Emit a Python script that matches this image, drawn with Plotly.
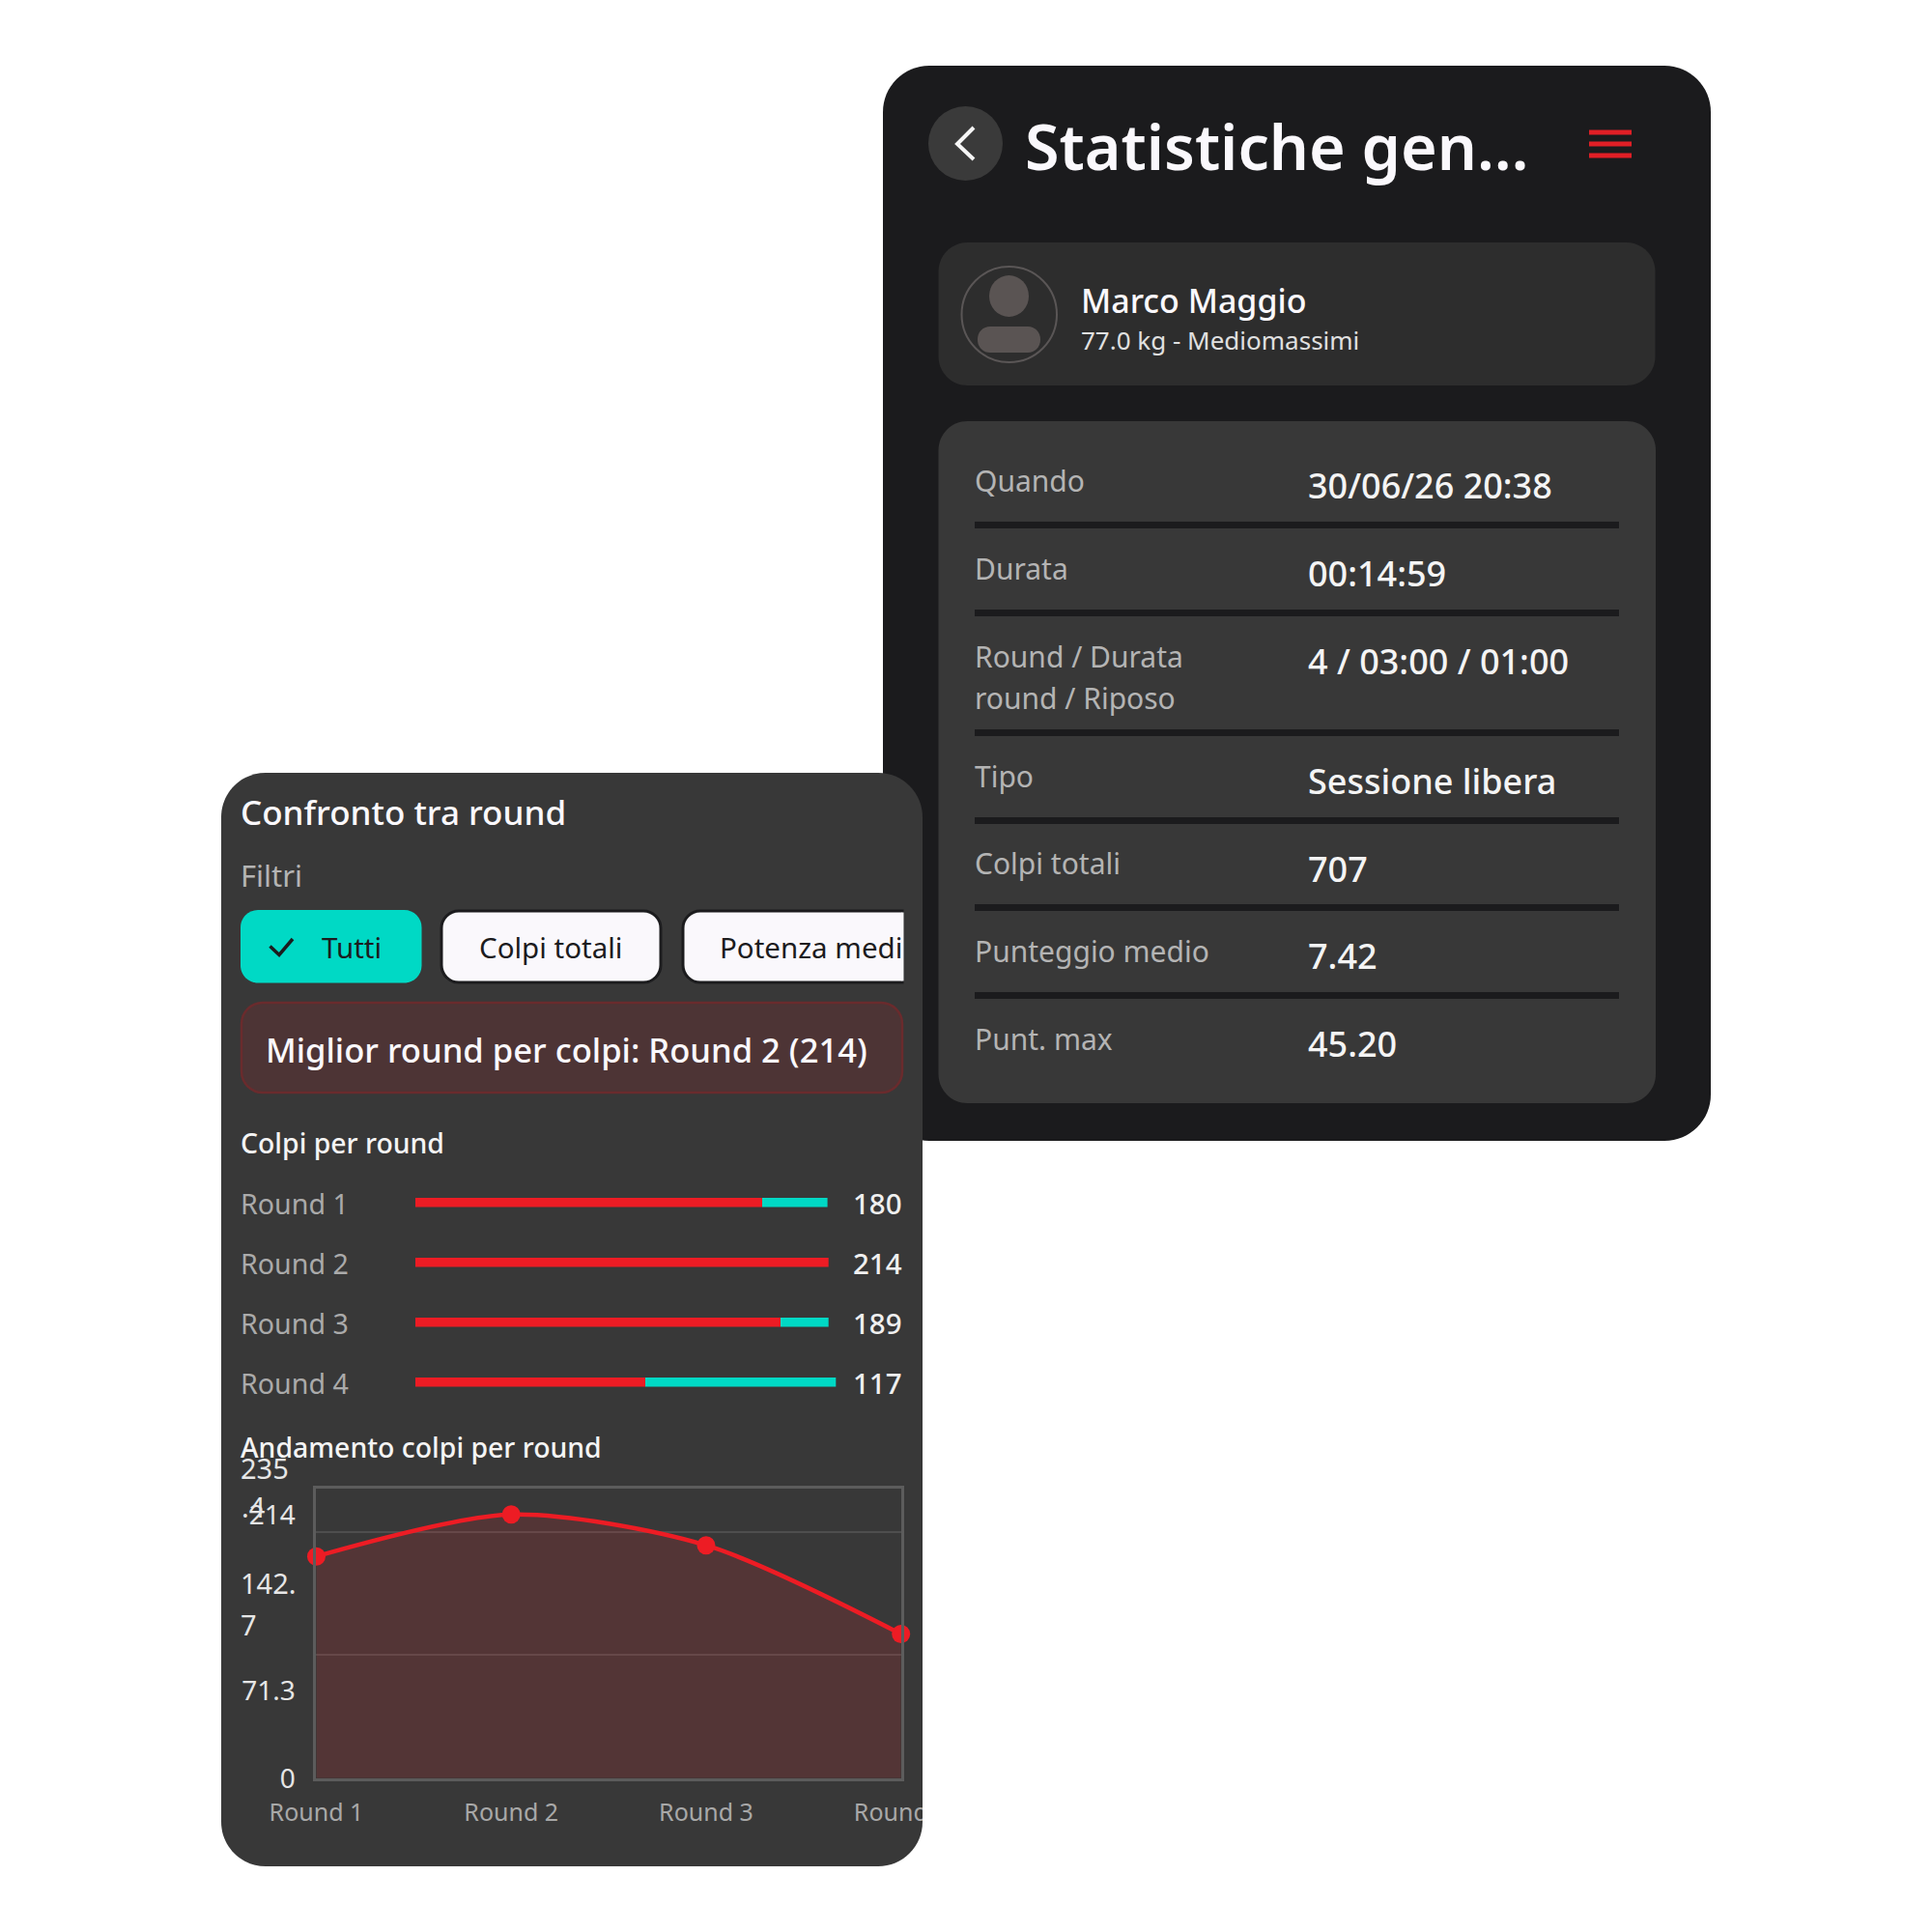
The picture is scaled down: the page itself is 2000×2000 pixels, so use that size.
import plotly.graph_objects as go

# ---------- data ----------
ROUNDS = ["Round 1", "Round 2", "Round 3", "Round 4"]
COLPI = [180, 214, 189, 117]
RESTO = [34, 0, 25, 97]
Y_MAX = 235.4
Y_TICK_VALUES = [0, 71.3, 214]
Y_TICK_TEXT = ["0", "71.3", "214"]
GRID_VALUES = [100, 200]
STAT_LABELS = ["Quando", "Durata", "Round / Durata", "round / Riposo", "Tipo", "Colpi totali", "Punteggio medio", "Punt. max"]
STAT_VALUES = ["30/06/26 20:38", "00:14:59", "4 / 03:00 / 01:00", "Sessione libera", "707", "7.42", "45.20"]

# ---------- style ----------
FONT = "Noto Sans"
RED = "#ed1c24"
TEAL = "#00d9c5"
DARK = "#1b1b1d"
PANEL = "#383838"
W = 2000.0

def px(x):
    return x / W

def py(y):
    return 1 - y / W

shapes = []
annotations = []

def rrect(x0, y0, x1, y1, r, fill, line=None, lw=0, tl=True, tr=True, br=True, bl=True, layer="below"):
    k = r * 0.4477
    P = lambda x, y: f"{px(x):.6f},{py(y):.6f}"
    d = []
    d.append("M" + P(x0 + (r if tl else 0), y0))
    d.append("L" + P(x1 - (r if tr else 0), y0))
    if tr:
        d.append("C" + P(x1 - k, y0) + " " + P(x1, y0 + k) + " " + P(x1, y0 + r))
    d.append("L" + P(x1, y1 - (r if br else 0)))
    if br:
        d.append("C" + P(x1, y1 - k) + " " + P(x1 - k, y1) + " " + P(x1 - r, y1))
    d.append("L" + P(x0 + (r if bl else 0), y1))
    if bl:
        d.append("C" + P(x0 + k, y1) + " " + P(x0, y1 - k) + " " + P(x0, y1 - r))
    d.append("L" + P(x0, y0 + (r if tl else 0)))
    if tl:
        d.append("C" + P(x0, y0 + k) + " " + P(x0 + k, y0) + " " + P(x0 + r, y0))
    d.append("Z")
    shapes.append(dict(type="path", path=" ".join(d), xref="paper", yref="paper", fillcolor=fill,
                       line=dict(color=line or fill, width=lw), layer=layer))

def rect(x0, y0, x1, y1, fill, layer="below"):
    shapes.append(dict(type="rect", xref="paper", yref="paper", x0=px(x0), x1=px(x1), y0=py(y1), y1=py(y0),
                       fillcolor=fill, line=dict(width=0), layer=layer))

def oval(x0, y0, x1, y1, fill, line=None, lw=0):
    shapes.append(dict(type="circle", xref="paper", yref="paper", x0=px(x0), x1=px(x1), y0=py(y1), y1=py(y0),
                       fillcolor=fill, line=dict(color=line or fill, width=lw), layer="below"))

def poly(points, color, lw):
    d = " ".join(("M" if i == 0 else "L") + f"{px(x):.6f},{py(y):.6f}" for i, (x, y) in enumerate(points))
    shapes.append(dict(type="path", path=d, xref="paper", yref="paper",
                       line=dict(color=color, width=lw), layer="below"))

def text(s, x, base, size, color, anchor="left", weight=400):
    annotations.append(dict(text=s, xref="paper", yref="paper", x=px(x), y=py(base - 0.388 * size),
                            xanchor=anchor, yanchor="middle", showarrow=False, borderpad=0, borderwidth=0,
                            font=dict(family=FONT, size=size, color=color, weight=weight)))

# ---------- right card ----------
rrect(914, 68, 1771, 1181, 48, DARK)
oval(961, 110, 1038, 187, "#3a3a3a")
poly([(1008, 132), (991, 149), (1008, 165)], "#f5f5f5", 4)
text("Statistiche gen\u2026", 1061, 176, 64.6, "#faf8fc", weight=600)
for y0, y1 in [(134.5, 139.5), (146.5, 151.5), (158.5, 163.5)]:
    rect(1645, y0, 1689, y1, "#e01f26")

rrect(971.5, 251, 1713.5, 399, 30, "#2d2d2d")
oval(995.5, 276, 1094, 375, "rgba(0,0,0,0)", "#5a5656", 2)
oval(1024, 285, 1065, 328, "#5a5453")
rrect(1012, 338, 1077, 365, 13, "#5a5453")
text("Marco Maggio", 1119, 324, 34, "#faf8fc", weight=500)
text("77.0 kg - Mediomassimi", 1119, 362, 26, "#e0e0e0")

rrect(971.5, 436, 1714, 1142, 30, PANEL)
for y0, y1 in [(540, 547), (631, 638), (755, 762), (846, 853), (936, 943), (1027, 1034)]:
    rect(1009, y0, 1676, y1, DARK)
LABEL_BASE = [509, 600, 691, 734, 815, 905, 996, 1087]
VALUE_BASE = [516.5, 607.5, 698.5, 822.5, 913.5, 1003.5, 1094.5]
for s, b in zip(STAT_LABELS, LABEL_BASE):
    text(s, 1008.5, b, 30, "#b4b4b4")
for s, b in zip(STAT_VALUES, VALUE_BASE):
    text(s, 1354, b, 36, "#f4f4f4", weight=500)

# ---------- left card ----------
rrect(229, 800, 955, 1932, 46, PANEL)
text("Confronto tra round", 248.5, 854, 35, "#faf8fc", weight=500)
text("Filtri", 248.5, 918.5, 31, "#b4b4b4")
rrect(249, 942, 436.5, 1017.5, 18, TEAL)
poly([(279.5, 979.5), (289, 988.5), (303, 972)], "#1c1c1e", 3.5)
text("Tutti", 333, 992, 29.5, "#1c1c1e")
rrect(457, 943, 684, 1017, 18, "#faf8fc", "#1c1c1e", 3)
text("Colpi totali", 570, 992, 29.5, "#1c1c1e", anchor="center")
rrect(707, 943, 935.5, 1017, 18, "#faf8fc", "#1c1c1e", 3, tr=False, br=False)
rect(935.5, 941, 938, 1019, PANEL)
rect(933.5, 944.5, 935.5, 1015.5, "#faf8fc")
text("Potenza medi", 745, 992, 29.5, "#1c1c1e")
rrect(250, 1038, 934, 1131, 22, "#4d3435", "#6a2b2d", 2.5)
text("Miglior round per colpi: Round 2 (214)", 275, 1100, 34.6, "#faf8fc", weight=500)
text("Colpi per round", 248.5, 1194, 28.4, "#f4f4f4", weight=500)
text("Andamento colpi per round", 248.5, 1509, 28.4, "#f4f4f4", weight=500)

ROW_BASE = [1257, 1319, 1381, 1443]
ROW_TOP = [1240, 1302, 1364, 1426]
ROW_END = [856.6, 857.7, 857.7, 865.3]
BAR_LEFT = 429.6
BAR_H = 9.5

fig = go.Figure()
layout_axes = {}
for i, name in enumerate(ROUNDS):
    n = i + 2
    xa, ya = f"x{n}", f"y{n}"
    fig.add_trace(go.Bar(y=[name], x=[COLPI[i]], orientation="h", marker=dict(color=RED, line=dict(width=0)),
                         xaxis=xa, yaxis=ya, showlegend=False))
    fig.add_trace(go.Bar(y=[name], x=[RESTO[i]], orientation="h", marker=dict(color=TEAL, line=dict(width=0)),
                         xaxis=xa, yaxis=ya, showlegend=False))
    layout_axes[f"xaxis{n}"] = dict(domain=[px(BAR_LEFT), px(ROW_END[i])], range=[0, max(COLPI)], visible=False,
                                    anchor=ya, automargin=False)
    layout_axes[f"yaxis{n}"] = dict(domain=[py(ROW_TOP[i] + BAR_H), py(ROW_TOP[i])], range=[-0.5, 0.5], visible=False,
                                    anchor=xa, type="category", automargin=False)
    text(name, 248.5, ROW_BASE[i], 28.6, "#aaaaaa")
    text(str(COLPI[i]), 933.7, ROW_BASE[i], 29.5, "#f0f0f0", anchor="right", weight=500)

# ---------- trend chart ----------
P_L, P_R, P_T, P_B = 327.25, 932.8, 1540.5, 1840.75
fig.add_trace(go.Scatter(x=ROUNDS, y=COLPI, mode="lines+markers", showlegend=False, cliponaxis=False,
                         line=dict(color=RED, width=4.5, shape="spline", smoothing=0.8),
                         marker=dict(color=RED, size=19),
                         fill="tozeroy", fillcolor="rgba(240,42,48,0.15)", xaxis="x", yaxis="y"))
AXIS_LINE = "#5c5c5c"
layout_axes["xaxis"] = dict(domain=[px(P_L), px(P_R)], range=[-0.001, 3.0005], type="category", automargin=False,
                            categoryorder="array", categoryarray=ROUNDS,
                            showgrid=False, zeroline=False, showline=True, mirror=True, linecolor=AXIS_LINE, linewidth=2.5,
                            ticks="", ticklabelstandoff=11, tickfont=dict(family=FONT, size=25, color="#a8a8a8"),
                            anchor="y")
layout_axes["yaxis"] = dict(domain=[py(P_B), py(P_T)], range=[0, Y_MAX], tickvals=Y_TICK_VALUES, ticktext=Y_TICK_TEXT, automargin=False,
                            showgrid=False, zeroline=False, showline=True, mirror=True, linecolor=AXIS_LINE, linewidth=2.5,
                            ticks="", ticklabelstandoff=13, tickfont=dict(family=FONT, size=28, color="#e6e6e6"),
                            minor=dict(tickvals=GRID_VALUES, showgrid=True, gridcolor="#4e4e4e", gridwidth=1.5, ticks=""),
                            anchor="x")
text("235", 248.5, 1530.5, 29, "#e6e6e6")
text(".4", 250, 1571, 29, "#e6e6e6")
text("142.", 248.5, 1650, 29, "#e6e6e6")
text("7", 248.5, 1692.5, 29, "#e6e6e6")

# clip of the last tick label at the card edge
rect(955, 1855, 1010, 1905, "#ffffff", layer="above")

fig.update_layout(width=2000, height=2000, margin=dict(l=0, r=0, t=0, b=0, pad=0, autoexpand=False), paper_bgcolor="#ffffff",
                  plot_bgcolor="rgba(0,0,0,0)", barmode="stack", bargap=0, shapes=shapes, annotations=annotations,
                  font=dict(family=FONT), hovermode=False, **layout_axes)
fig.write_html("out.html", post_script="document.body.style.margin='0';", config=dict(displayModeBar=False))
